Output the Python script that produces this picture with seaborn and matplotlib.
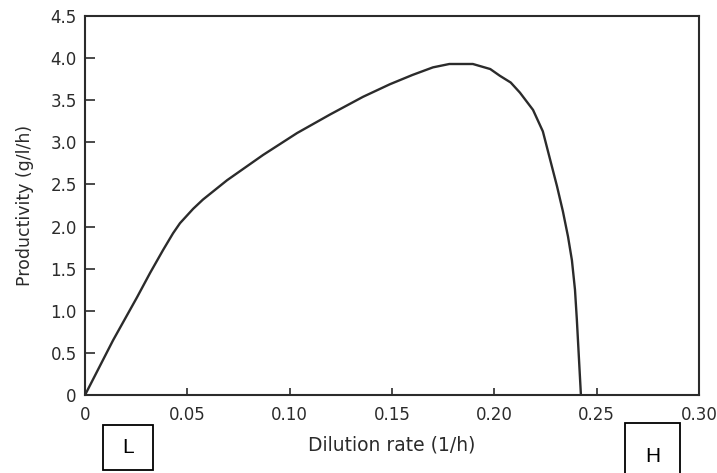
#!/usr/bin/env python
# coding: utf-8

# Productivity vs dilution rate (scanned chart redrawn)

import matplotlib
matplotlib.use('Agg')
import matplotlib.pyplot as plt
from matplotlib.patches import Rectangle
import seaborn as sns
import pandas as pd

# ==================
# data

dilution_rate = [0, 0.0137, 0.0254, 0.0318, 0.0381, 0.0430, 0.0464, 0.0528, 0.0576, 0.0694,
                 0.087, 0.1036, 0.1197, 0.1358, 0.149, 0.160, 0.170, 0.178, 0.1895,
                 0.198, 0.2027, 0.208, 0.2125, 0.2189, 0.2237, 0.2272, 0.2306, 0.2335,
                 0.2360, 0.2379, 0.2394, 0.2403, 0.2413, 0.2423]
productivity = [0, 0.65, 1.16, 1.45, 1.72, 1.92, 2.04, 2.21, 2.32, 2.55,
                2.85, 3.11, 3.33, 3.54, 3.69, 3.80, 3.89, 3.93, 3.93,
                3.87, 3.79, 3.71, 3.59, 3.385, 3.13, 2.80, 2.48, 2.18,
                1.88, 1.60, 1.25, 0.90, 0.45, 0]

x_ticks = [0, 0.05, 0.10, 0.15, 0.20, 0.25, 0.30]
x_ticklabels = ['0', '0.05', '0.10', '0.15', '0.20', '0.25', '0.30']
y_ticks = [0, 0.5, 1.0, 1.5, 2.0, 2.5, 3.0, 3.5, 4.0, 4.5]
y_ticklabels = ['0', '0.5', '1.0', '1.5', '2.0', '2.5', '3.0', '3.5', '4.0', '4.5']

data = pd.DataFrame({'D': dilution_rate, 'P': productivity})

# ===================
# plot

sns.set_theme(style='ticks')
plt.rcParams['font.family'] = ['DejaVu Sans']
ink = '#2b2b2b'

fig = plt.figure(figsize=(7.17, 4.73), dpi=100)
ax = fig.add_axes([0.1186, 0.1649, 0.8563, 0.8013])

sns.lineplot(data=data, x='D', y='P', ax=ax, color=ink, linewidth=1.7, estimator=None)

ax.set_xlim(0, 0.30)
ax.set_ylim(0, 4.5)
ax.set_xticks(x_ticks)
ax.set_xticklabels(x_ticklabels)
ax.set_yticks(y_ticks)
ax.set_yticklabels(y_ticklabels)
ax.tick_params(axis='both', direction='in', colors=ink, labelcolor=ink,
               labelsize=12, width=1.2)
ax.tick_params(axis='y', length=7, pad=6)
ax.tick_params(axis='x', length=5, pad=8)
for side in ['left', 'right', 'top', 'bottom']:
    ax.spines[side].set_visible(True)
    ax.spines[side].set_color(ink)
    ax.spines[side].set_linewidth(1.5)

ax.set_xlabel('Dilution rate (1/h)', fontsize=13.5, color=ink, labelpad=8)
ax.set_ylabel('Productivity (g/l/h)', fontsize=12.5, color=ink, labelpad=12)

# the L / H boxes under the axis
box_font = {'fontsize': 15, 'family': 'Liberation Sans', 'color': 'black'}
fig.add_artist(Rectangle((0.1437, 0.0063), 0.0697, 0.095, transform=fig.transFigure,
                         fill=False, edgecolor='black', linewidth=1.3, clip_on=False))
fig.text(0.1437 + 0.0697 / 2, 0.0063 + 0.095 / 2, 'L', ha='center', va='center', **box_font)
fig.add_artist(Rectangle((0.8717, -0.01), 0.0767, 0.1157, transform=fig.transFigure,
                         fill=False, edgecolor='black', linewidth=1.3, clip_on=False))
fig.text(0.8717 + 0.0767 / 2, 0.035, 'H', ha='center', va='center', **box_font)

plt.savefig('out.png', dpi=100)
plt.close()
